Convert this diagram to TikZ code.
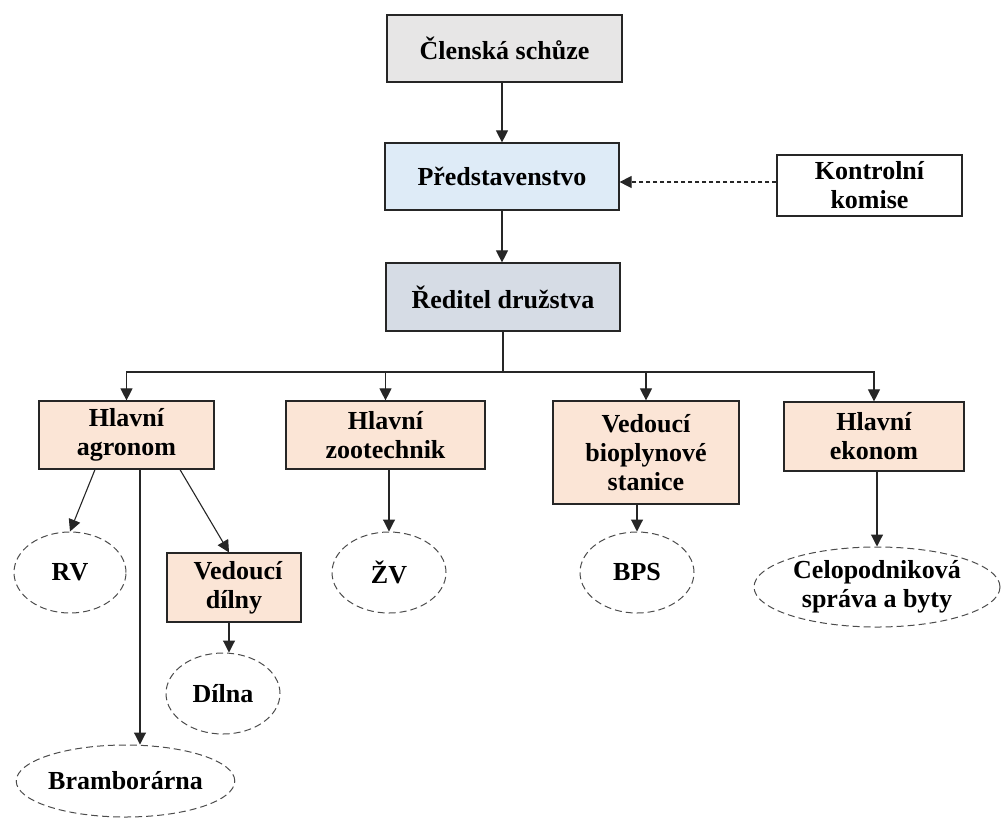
\documentclass[tikz,border=0pt]{standalone}
\usepackage{fontspec}
\setmainfont{Liberation Serif}
\usetikzlibrary{arrows.meta,shapes.geometric,calc}
\definecolor{cgray}{HTML}{E7E6E6}
\definecolor{cblue}{HTML}{DEEBF7}
\definecolor{cslate}{HTML}{D6DCE5}
\definecolor{corange}{HTML}{FBE5D6}
\definecolor{cline}{HTML}{262626}
\begin{document}
\begin{tikzpicture}[x=1pt,y=-1pt,
  every node/.style={font=\fontsize{26}{29}\selectfont\bfseries, align=center, inner sep=0pt},
  box/.style={draw=cline, line width=1.2pt, rectangle},
  oval/.style={draw=black!70, line width=1pt, ellipse, dash pattern=on 7pt off 4pt},
  arr/.style={draw=cline, line width=1.1pt, -{Triangle[length=12pt,width=12pt]}},
  ln/.style={draw=cline, line width=1.1pt}]
\useasboundingbox (0,0) rectangle (1003,823);

\node[box, fill=cgray, minimum width=235pt, minimum height=67pt] (cs) at (504.5,48.5) {Členská schůze};
\node[box, fill=cblue, minimum width=234pt, minimum height=67pt] (pr) at (502,176.5) {Představenstvo};
\node[box, fill=cslate, minimum width=234pt, minimum height=68pt] (rd) at (503,297) {Ředitel družstva};
\node[box, fill=white, minimum width=185pt, minimum height=61pt] (kk) at (869.5,185.5) {Kontrolní\\komise};

\node[box, fill=corange, minimum width=175pt, minimum height=68pt] (ha) at (126.5,435) {Hlavní\\agronom};
\node[box, fill=corange, minimum width=199pt, minimum height=68pt] (hz) at (385.5,435) {Hlavní\\zootechnik};
\node[box, fill=corange, minimum width=186pt, minimum height=103pt] (vb) at (646,452.5) {Vedoucí\\bioplynové\\stanice};
\node[box, fill=corange, minimum width=180pt, minimum height=69pt] (he) at (874,436.5) {Hlavní\\ekonom};
\node[box, fill=corange, minimum width=134pt, minimum height=69pt] (vd) at (234,587.5) {\hspace*{8pt}Vedoucí\\dílny};

\node[oval, minimum width=112pt, minimum height=81pt] (rv) at (70,572.5) {RV};
\node[oval, minimum width=114pt, minimum height=81pt] (zv) at (389,572.5) {ŽV};
\node[oval, minimum width=114pt, minimum height=81pt] (bps) at (637,572.5) {BPS};
\node[oval, minimum width=246pt, minimum height=80pt] (cp) at (877,587) {Celopodniková\\správa a byty};
\node[oval, minimum width=114pt, minimum height=81pt] (dl) at (223,693.5) {Dílna};
\node[oval, minimum width=209pt, minimum height=72pt] (br) at (125.5,781) {Bramborárna};

\coordinate (bus) at (503,372);

\draw[arr] (cs.south -| pr.north) -- (pr.north);
\draw[arr] (pr.south) -- (pr.south |- rd.north);
\draw[arr, dash pattern=on 4pt off 3pt] ([yshift=3.5pt]kk.west) -- ([yshift=3.5pt]kk.west -| pr.east);

\draw[ln] (rd.south) -- (bus);
\draw[arr] (bus) -| (ha.north);
\draw[arr] (bus) -| (hz.north);
\draw[arr] (bus) -| (vb.north);
\draw[arr] (bus) -| (he.north);

\draw[arr] ([xshift=-31.5pt]ha.south) -- (rv.north);
\draw[arr] ([xshift=13.5pt]ha.south) -- ([xshift=13.5pt]ha.south |- br.north);
\draw[arr] ([xshift=53.5pt]ha.south) -- ([xshift=-5pt]vd.north);
\draw[arr] ([xshift=-5pt]vd.south) -- ([xshift=-5pt]vd.south |- dl.north);
\draw[arr] (hz.south -| zv.north) -- (zv.north);
\draw[arr] (vb.south -| bps.north) -- (bps.north);
\draw[arr] (he.south -| cp.north) -- (cp.north);
\end{tikzpicture}
\end{document}
